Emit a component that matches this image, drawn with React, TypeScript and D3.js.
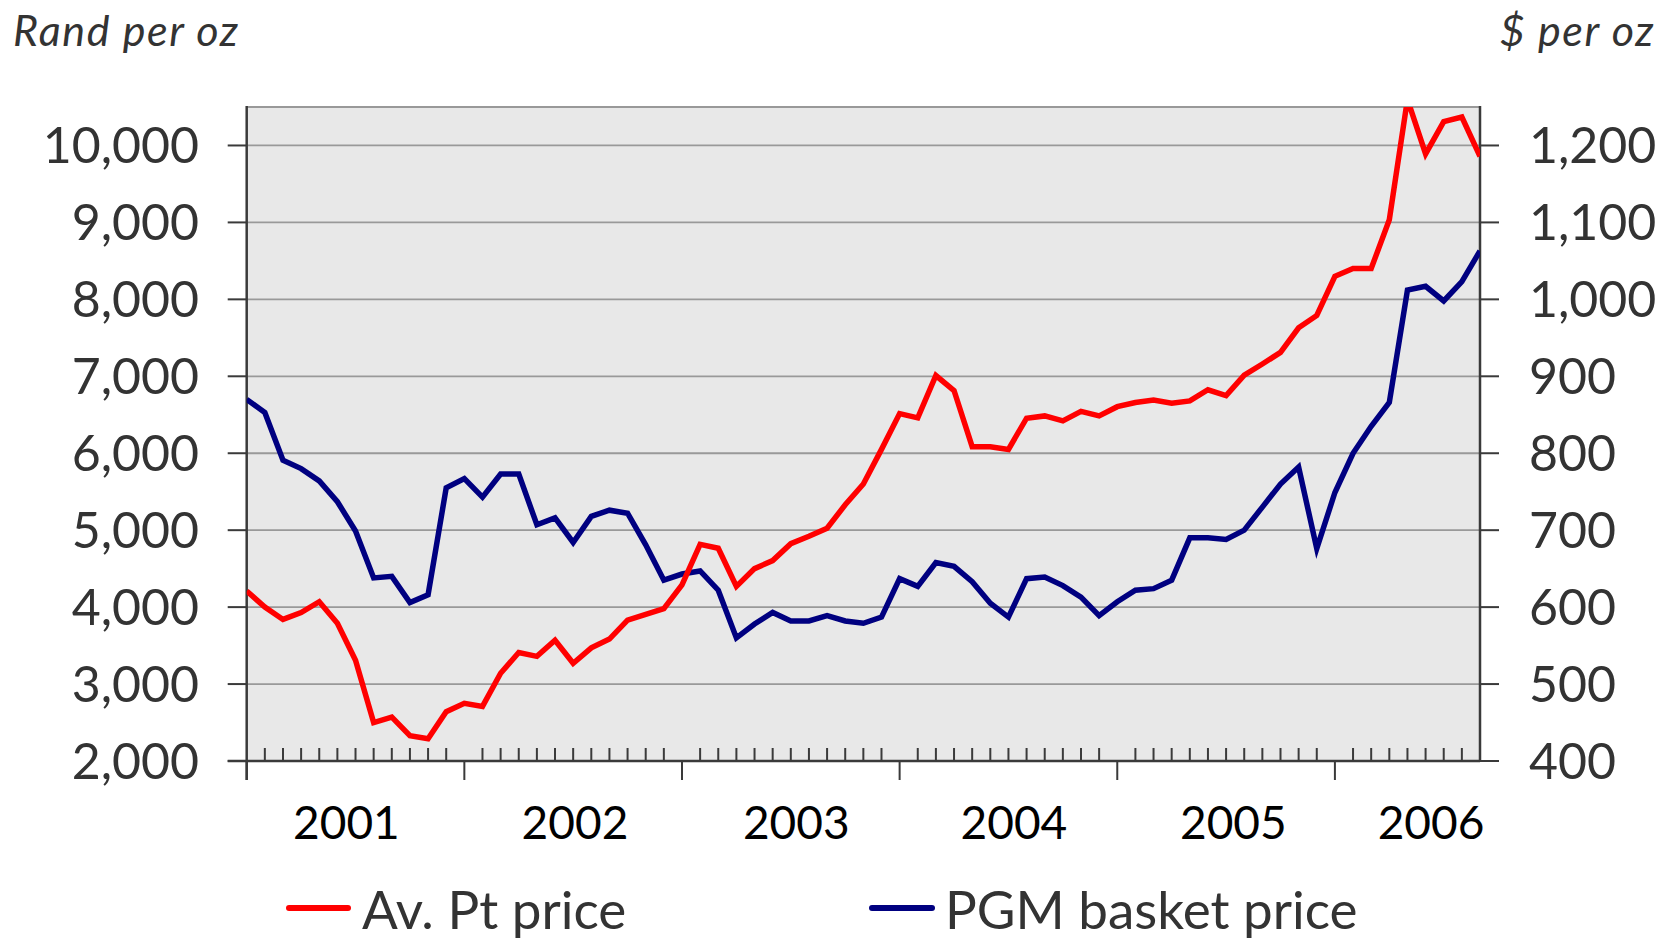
import React from 'react';
import * as d3 from 'd3';

// monthly series, Jan 2001 .. Sep 2006
const months = d3.timeMonths(new Date(2001, 0, 1), new Date(2006, 9, 1));
const years = ['2001', '2002', '2003', '2004', '2005', '2006'];
// month index at which each year label is centred
const yearLabelAt = [5.5, 18.1, 30.3, 42.3, 54.4, 65.3];

// Av. Pt price, Rand per oz (left axis)
const ptRand = [
  4210, 4000, 3840, 3930, 4070, 3790, 3310, 2500, 2570, 2330, 2290, 2640,
  2750, 2710, 3140, 3410, 3360, 3570, 3270, 3470, 3585, 3830, 3905, 3980,
  4290, 4815, 4765, 4270, 4500, 4605, 4825, 4920, 5025, 5330, 5600, 6050,
  6515, 6460, 7010, 6815, 6085, 6085, 6050, 6455, 6485, 6420, 6545, 6485,
  6605, 6660, 6690, 6650, 6680, 6825, 6750, 7015, 7160, 7310, 7630, 7790,
  8300, 8400, 8400, 9035, 10600, 9890, 10310, 10370, 9860,
];

// PGM basket price, $ per oz (right axis)
const pgmUsd = [
  870, 853, 791, 780, 764, 737, 699, 638, 640, 606, 616, 755,
  767, 743, 773, 773, 707, 716, 684, 718, 726, 722, 681, 635,
  643, 647, 622, 560, 578, 593, 582, 582, 589, 582, 579, 587,
  637, 627, 658, 653, 633, 605, 587, 637, 639, 628, 613, 589,
  607, 622, 624, 635, 690, 690, 688, 700, 730, 760, 782, 676,
  749, 800, 835, 866, 1012, 1017, 998, 1023, 1063,
];

const randTicks = [2000, 3000, 4000, 5000, 6000, 7000, 8000, 9000, 10000];
const usdTicks = [400, 500, 600, 700, 800, 900, 1000, 1100, 1200];

const W = 1671;
const H = 940;
const L = 246.7;
const R = 1480;
const T = 107;
const B = 761;

const FONT = "Lato, 'Open Sans', sans-serif";

export default function App() {
  const x = d3.scaleLinear().domain([0, months.length - 1]).range([L, R]);
  const yL = d3.scaleLinear().domain([2000, 10500]).range([B, T]);
  const yR = d3.scaleLinear().domain([400, 1250]).range([B, T]);
  const fmt = d3.format(',');

  const redLine = d3.line<number>().x((_, i) => x(i)).y((d) => yL(d))(ptRand) || '';
  const blueLine = d3.line<number>().x((_, i) => x(i)).y((d) => yR(d))(pgmUsd) || '';

  return (
    <svg width={W} height={H} style={{ position: 'absolute', left: 0, top: 0, display: 'block' }}>
      <defs>
        <clipPath id="plot">
          <rect x={L} y={T} width={R - L} height={B - T} />
        </clipPath>
      </defs>
      <rect width={W} height={H} fill="#fff" />

      {/* axis titles */}
      <text x={13} y={46} fontFamily={FONT} fontStyle="italic" fontSize={43} letterSpacing={1.6} fill="#333">Rand per oz</text>
      <text x={1655} y={46} fontFamily={FONT} fontStyle="italic" fontSize={43} letterSpacing={1.6} fill="#333" textAnchor="end">$ per oz</text>

      {/* plot area */}
      <rect x={L} y={T} width={R - L} height={B - T} fill="#e8e8e8" />
      {randTicks.slice(1).map((t) => (
        <line key={t} x1={L} x2={R} y1={yL(t)} y2={yL(t)} stroke="#999" strokeWidth={1.8} />
      ))}
      <line x1={L} x2={R} y1={T} y2={T} stroke="#999" strokeWidth={2} />

      {/* left axis */}
      <line x1={L} x2={L} y1={T - 1} y2={B + 19} stroke="#3a3a3a" strokeWidth={2.5} />
      {randTicks.map((t) => (
        <g key={t}>
          <line x1={L - 19} x2={L} y1={yL(t)} y2={yL(t)} stroke="#3a3a3a" strokeWidth={2} />
          <text x={199} y={yL(t)} dy="0.36em" textAnchor="end" fontFamily={FONT} fontSize={50} fill="#333">
            {fmt(t)}
          </text>
        </g>
      ))}

      {/* right axis */}
      <line x1={R} x2={R} y1={T - 1} y2={B} stroke="#3a3a3a" strokeWidth={2.5} />
      {usdTicks.map((t) => (
        <g key={t}>
          <line x1={R} x2={R + 19} y1={yR(t)} y2={yR(t)} stroke="#3a3a3a" strokeWidth={2} />
          <text x={1529} y={yR(t)} dy="0.36em" fontFamily={FONT} fontSize={50} fill="#333">
            {fmt(t)}
          </text>
        </g>
      ))}

      {/* x axis */}
      <line x1={L - 19} x2={R} y1={B} y2={B} stroke="#3a3a3a" strokeWidth={2.5} />
      {months.map((m, i) =>
        m.getMonth() === 0 ? (
          <line key={i} x1={x(i)} x2={x(i)} y1={B} y2={B + 19} stroke="#3a3a3a" strokeWidth={2} />
        ) : (
          <line key={i} x1={x(i)} x2={x(i)} y1={B - 13} y2={B} stroke="#3a3a3a" strokeWidth={2} />
        )
      )}
      {years.map((yr, k) => (
        <text key={yr} x={x(yearLabelAt[k])} y={839} textAnchor="middle" fontFamily={FONT} fontSize={46} fill="#000">
          {yr}
        </text>
      ))}

      {/* series */}
      <g clipPath="url(#plot)">
        <path d={blueLine} fill="none" stroke="#000080" strokeWidth={5.5} strokeLinejoin="miter" />
        <path d={redLine} fill="none" stroke="#ff0000" strokeWidth={5.5} strokeLinejoin="miter" />
      </g>

      {/* legend */}
      <line x1={289} x2={348} y1={908} y2={908} stroke="#ff0000" strokeWidth={6} strokeLinecap="round" />
      <text x={362} y={929} fontFamily={FONT} fontSize={53} fill="#333">Av. Pt price</text>
      <line x1={872} x2={932} y1={908} y2={908} stroke="#000080" strokeWidth={6} strokeLinecap="round" />
      <text x={945} y={929} fontFamily={FONT} fontSize={53} fill="#333">PGM basket price</text>
    </svg>
  );
}
